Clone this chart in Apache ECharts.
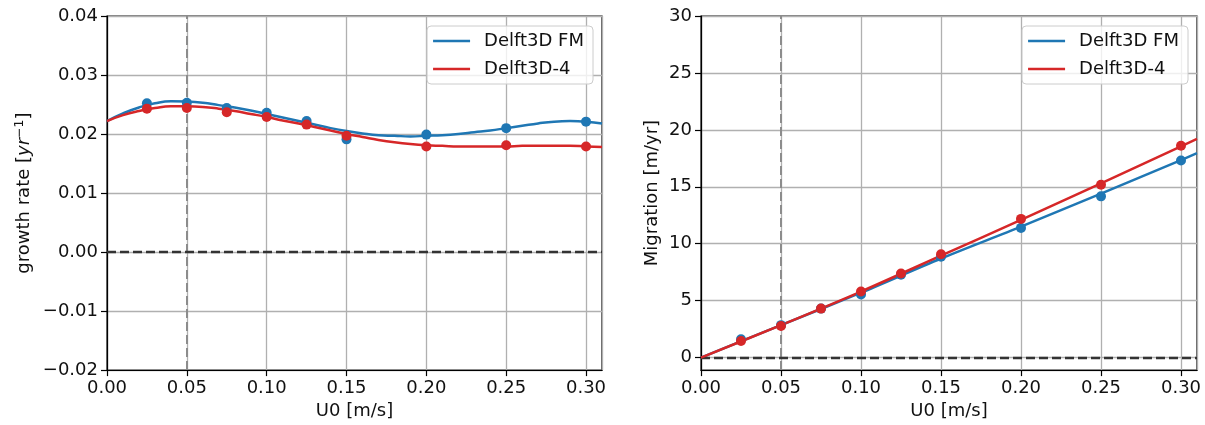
<!DOCTYPE html>
<html>
<head>
<meta charset="utf-8">
<script src="https://cdn.jsdelivr.net/npm/echarts@6/dist/echarts.min.js"></script>
<style>
html,body{margin:0;padding:0;background:#fff;}
#c{width:1205px;height:425px;}
</style>
</head>
<body>
<div id="c"></div>
<script>
// ---- data ----
const seriesNames = ['Delft3D FM', 'Delft3D-4'];
const xPoints = [0.025, 0.05, 0.075, 0.1, 0.125, 0.15, 0.2, 0.25, 0.3];
const growthFM = [0.0252, 0.0253, 0.0244, 0.0236, 0.0222, 0.0191, 0.0199, 0.0210, 0.0221];
const growthD4 = [0.0243, 0.0244, 0.0237, 0.0229, 0.0216, 0.0197, 0.0179, 0.0181, 0.0179];
const migFM = [1.6, 2.85, 4.3, 5.55, 7.28, 8.85, 11.39, 14.16, 17.31];
const migD4 = [1.46, 2.78, 4.3, 5.81, 7.39, 9.08, 12.18, 15.18, 18.6];

const xCurveGrowth = [0, 0.01, 0.02, 0.03, 0.04, 0.05, 0.06, 0.07, 0.08, 0.09, 0.10, 0.11, 0.12, 0.13, 0.14, 0.15,
  0.16, 0.17, 0.18, 0.19, 0.20, 0.21, 0.22, 0.23, 0.24, 0.25, 0.26, 0.27, 0.28, 0.29, 0.30, 0.31];
const curveGrowthFM = [0.0222, 0.0235, 0.0245, 0.0252, 0.02555, 0.0255, 0.0253, 0.0249, 0.0245, 0.0240, 0.0234,
  0.0228, 0.0222, 0.0216, 0.0210, 0.0205, 0.0201, 0.0198, 0.0197, 0.0196, 0.0197, 0.0198, 0.0200, 0.0203, 0.0206,
  0.0210, 0.0214, 0.0218, 0.0221, 0.0222, 0.0221, 0.0218];
const curveGrowthD4 = [0.0222, 0.0232, 0.0239, 0.0244, 0.0247, 0.0247, 0.0246, 0.0243, 0.0239, 0.0234, 0.0229,
  0.0223, 0.0218, 0.0212, 0.0206, 0.0200, 0.0195, 0.0190, 0.0186, 0.0183, 0.0181, 0.0180, 0.0179, 0.0179, 0.0179,
  0.0179, 0.0180, 0.0180, 0.0180, 0.0180, 0.0179, 0.0178];

const xCurveMig = [0, 0.05, 0.1, 0.15, 0.2, 0.25, 0.3, 0.31];
const curveMigFM = [0, 2.85, 5.7, 8.7, 11.5, 14.4, 17.35, 17.95];
const curveMigD4 = [0, 2.85, 5.8, 8.95, 12.1, 15.3, 18.55, 19.2];

const refX = 0.05;
const refY = 0;

// ---- styling ----
const FONT = 'DejaVu Sans';
const FS = 18;
const BLUE = '#1f77b4';
const RED = '#d62728';
const TXT = '#111';

function pairs(xs, ys) { return xs.map((x, i) => [x, ys[i]]); }
function fmtSigned(v, d) {
  const s = Math.abs(v).toFixed(d);
  return (v < -1e-12 ? '\u2212' : '') + s;
}

function xAxisDef(gi) {
  return {
    type: 'value', gridIndex: gi, min: 0, max: 0.31, interval: 0.05,
    name: 'U0 [m/s]', nameLocation: 'middle', nameGap: 31,
    nameTextStyle: { fontFamily: FONT, fontSize: FS, color: TXT },
    axisLine: { show: true, onZero: false, lineStyle: { color: '#000', width: 1.2 } },
    axisTick: { show: true, length: 6, lineStyle: { color: '#000', width: 1.2 } },
    axisLabel: { fontFamily: FONT, fontSize: FS, color: TXT, margin: 9, showMaxLabel: false,
      formatter: v => v.toFixed(2) },
    splitLine: { show: true, lineStyle: { color: '#b0b0b0', width: 1.3 } }
  };
}

function legendDef(right) {
  return {
    data: seriesNames, orient: 'vertical', right: right, top: 26,
    icon: 'rect', itemWidth: 37, itemHeight: 2.5, itemGap: 8,
    padding: [5, 9, 5, 6],
    backgroundColor: 'rgba(255,255,255,0.8)', borderColor: '#cccccc', borderWidth: 1, borderRadius: 4,
    textStyle: { fontFamily: FONT, fontSize: FS, color: TXT, lineHeight: 20, padding: [0, 0, 0, 9] },
    selectedMode: false
  };
}

function refLines(gi) {
  return {
    type: 'line', xAxisIndex: gi, yAxisIndex: gi, data: [], silent: true, z: 3,
    markLine: { silent: true, symbol: 'none', label: { show: false }, animation: false,
      data: [
        { xAxis: refX, lineStyle: { color: '#8c8c8c', type: [9, 4], width: 2 } },
        { yAxis: refY, lineStyle: { color: '#333', type: [9, 4], width: 2.3 } }
      ] }
  };
}

const option = {
  animation: false,
  backgroundColor: '#fff',
  grid: [
    { left: 107, top: 16, right: 603, bottom: 54, show: true, borderColor: '#000', borderWidth: 1.2, backgroundColor: 'transparent' },
    { left: 701, top: 16, right: 8, bottom: 54, show: true, borderColor: '#000', borderWidth: 1.2, backgroundColor: 'transparent' }
  ],
  legend: [legendDef(612), legendDef(17)],
  xAxis: [xAxisDef(0), xAxisDef(1)],
  yAxis: [
    {
      type: 'value', gridIndex: 0, min: -0.02, max: 0.04, interval: 0.01,
      name: 'growth rate [{it|yr}{sup|\u22121}]', nameLocation: 'middle', nameGap: 72, nameRotate: 90,
      nameTextStyle: { fontFamily: FONT, fontSize: FS, color: TXT,
        rich: {
          it: { fontFamily: FONT, fontSize: FS, fontStyle: 'oblique', color: TXT },
          sup: { fontFamily: FONT, fontSize: 12.5, color: TXT, verticalAlign: 'top', padding: [0, 0, 9, 0] }
        } },
      axisLine: { show: true, onZero: false, lineStyle: { color: '#000', width: 1.2 } },
      axisTick: { show: true, length: 6, lineStyle: { color: '#000', width: 1.2 } },
      axisLabel: { fontFamily: FONT, fontSize: FS, color: TXT, margin: 9, formatter: v => fmtSigned(v, 2) },
      splitLine: { show: true, lineStyle: { color: '#b0b0b0', width: 1.3 } }
    },
    {
      type: 'value', gridIndex: 1, min: -1.1, max: 30, splitNumber: 6,
      name: 'Migration [m/yr]', nameLocation: 'middle', nameGap: 40, nameRotate: 90,
      nameTextStyle: { fontFamily: FONT, fontSize: FS, color: TXT },
      axisLine: { show: true, onZero: false, lineStyle: { color: '#000', width: 1.2 } },
      axisTick: { show: true, length: 6, lineStyle: { color: '#000', width: 1.2 } },
      axisLabel: { fontFamily: FONT, fontSize: FS, color: TXT, margin: 9, showMinLabel: false,
        formatter: v => (Math.abs(v % 5) < 1e-9 ? String(Math.round(v)) : '') },
      splitLine: { show: true, lineStyle: { color: '#b0b0b0', width: 1.3 } }
    }
  ],
  series: [
    refLines(0),
    refLines(1),
    // left curves
    { name: seriesNames[0], type: 'line', xAxisIndex: 0, yAxisIndex: 0, data: pairs(xCurveGrowth, curveGrowthFM),
      smooth: true, showSymbol: false, color: BLUE, lineStyle: { width: 2.5, color: BLUE }, z: 4 },
    { name: seriesNames[1], type: 'line', xAxisIndex: 0, yAxisIndex: 0, data: pairs(xCurveGrowth, curveGrowthD4),
      smooth: true, showSymbol: false, color: RED, lineStyle: { width: 2.5, color: RED }, z: 5 },
    { type: 'scatter', xAxisIndex: 0, yAxisIndex: 0, data: pairs(xPoints, growthFM), symbolSize: 10,
      itemStyle: { color: BLUE, opacity: 1 }, z: 6 },
    { type: 'scatter', xAxisIndex: 0, yAxisIndex: 0, data: pairs(xPoints, growthD4), symbolSize: 10,
      itemStyle: { color: RED, opacity: 1 }, z: 7 },
    // right curves
    { name: seriesNames[0], type: 'line', xAxisIndex: 1, yAxisIndex: 1, data: pairs(xCurveMig, curveMigFM),
      smooth: 0.3, showSymbol: false, color: BLUE, lineStyle: { width: 2.5, color: BLUE }, z: 4 },
    { name: seriesNames[1], type: 'line', xAxisIndex: 1, yAxisIndex: 1, data: pairs(xCurveMig, curveMigD4),
      smooth: 0.3, showSymbol: false, color: RED, lineStyle: { width: 2.5, color: RED }, z: 5 },
    { type: 'scatter', xAxisIndex: 1, yAxisIndex: 1, data: pairs(xPoints, migFM), symbolSize: 10,
      itemStyle: { color: BLUE, opacity: 1 }, z: 6 },
    { type: 'scatter', xAxisIndex: 1, yAxisIndex: 1, data: pairs(xPoints, migD4), symbolSize: 10,
      itemStyle: { color: RED, opacity: 1 }, z: 7 }
  ]
};

const chart = echarts.init(document.getElementById('c'), null, { renderer: 'canvas' });
chart.setOption(option);
</script>
</body>
</html>
